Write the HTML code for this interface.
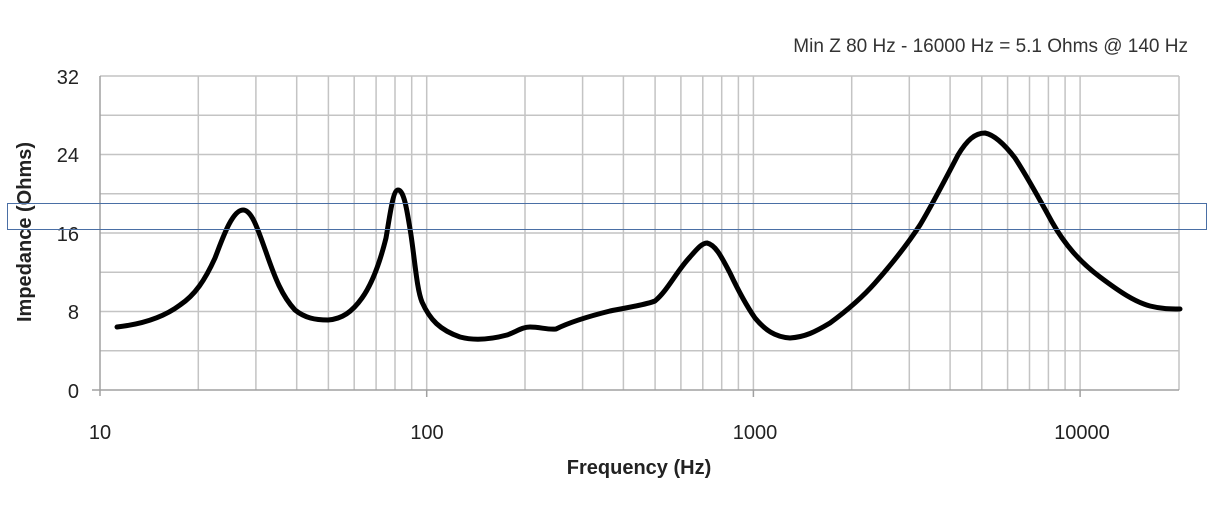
<!DOCTYPE html>
<html><head><meta charset="utf-8"><style>
body{margin:0;background:#fff}
svg{display:block;font-family:"Liberation Sans",sans-serif}
</style></head><body>
<svg width="1226" height="508" viewBox="0 0 1226 508">
<g stroke="#c4c4c4" stroke-width="1.5" fill="none">
<line x1="100" y1="115.25" x2="1179" y2="115.25"/>
<line x1="100" y1="154.5" x2="1179" y2="154.5"/>
<line x1="100" y1="193.75" x2="1179" y2="193.75"/>
<line x1="100" y1="233" x2="1179" y2="233"/>
<line x1="100" y1="272.25" x2="1179" y2="272.25"/>
<line x1="100" y1="311.5" x2="1179" y2="311.5"/>
<line x1="100" y1="350.75" x2="1179" y2="350.75"/>
<line x1="198.3" y1="76" x2="198.3" y2="390"/>
<line x1="255.9" y1="76" x2="255.9" y2="390"/>
<line x1="296.7" y1="76" x2="296.7" y2="390"/>
<line x1="328.4" y1="76" x2="328.4" y2="390"/>
<line x1="354.2" y1="76" x2="354.2" y2="390"/>
<line x1="376.1" y1="76" x2="376.1" y2="390"/>
<line x1="395" y1="76" x2="395" y2="390"/>
<line x1="411.7" y1="76" x2="411.7" y2="390"/>
<line x1="426.7" y1="76" x2="426.7" y2="390"/>
<line x1="525" y1="76" x2="525" y2="390"/>
<line x1="582.6" y1="76" x2="582.6" y2="390"/>
<line x1="623.4" y1="76" x2="623.4" y2="390"/>
<line x1="655.1" y1="76" x2="655.1" y2="390"/>
<line x1="680.9" y1="76" x2="680.9" y2="390"/>
<line x1="702.8" y1="76" x2="702.8" y2="390"/>
<line x1="721.7" y1="76" x2="721.7" y2="390"/>
<line x1="738.4" y1="76" x2="738.4" y2="390"/>
<line x1="753.4" y1="76" x2="753.4" y2="390"/>
<line x1="851.7" y1="76" x2="851.7" y2="390"/>
<line x1="909.3" y1="76" x2="909.3" y2="390"/>
<line x1="950.1" y1="76" x2="950.1" y2="390"/>
<line x1="981.8" y1="76" x2="981.8" y2="390"/>
<line x1="1007.6" y1="76" x2="1007.6" y2="390"/>
<line x1="1029.5" y1="76" x2="1029.5" y2="390"/>
<line x1="1048.4" y1="76" x2="1048.4" y2="390"/>
<line x1="1065.1" y1="76" x2="1065.1" y2="390"/>
<line x1="1080.1" y1="76" x2="1080.1" y2="390"/>
<line x1="100" y1="76" x2="1179" y2="76"/>
<line x1="1179" y1="76" x2="1179" y2="390"/>
</g>
<g stroke="#a0a0a0" stroke-width="1.5">
<line x1="92" y1="390" x2="1179" y2="390"/>
<line x1="100" y1="76" x2="100" y2="396"/>
<line x1="426.7" y1="390" x2="426.7" y2="397"/>
<line x1="753.4" y1="390" x2="753.4" y2="397"/>
<line x1="1080.1" y1="390" x2="1080.1" y2="397"/>
</g>
<g font-size="20" fill="#222" text-anchor="end">
<text x="79" y="84">32</text><text x="79" y="162">24</text><text x="79" y="241">16</text><text x="79" y="319">8</text><text x="79" y="398">0</text>
</g>
<g font-size="20" fill="#222" text-anchor="middle">
<text x="100" y="439">10</text><text x="427" y="439">100</text><text x="755" y="439">1000</text><text x="1082" y="439">10000</text>
</g>
<text x="639" y="474" font-size="20" font-weight="bold" text-anchor="middle" fill="#222">Frequency (Hz)</text>
<text transform="translate(31,232) rotate(-90)" font-size="20" font-weight="bold" text-anchor="middle" fill="#222">Impedance (Ohms)</text>
<text x="1188" y="52" font-size="19" text-anchor="end" fill="#333">Min Z  80 Hz - 16000 Hz = 5.1 Ohms @ 140 Hz</text>
<path fill="none" stroke="#000" stroke-width="5" stroke-linejoin="round" stroke-linecap="round" d="M117,327 C135,325 160,320 180,305 C195,295 205,280 215,258 C222,240 232,210 243,210 C252,210 258,230 266,252 C275,278 282,296 295,310 C305,318 315,320 328,320 C342,319 352,312 362,298 C372,284 380,262 386,238 C390,215 393,190 398,190 C404,190 407,210 411,235 C415,262 417,290 422,302 C430,320 440,330 460,337 C475,341 492,339 507,335 C516,332 522,327 530,327 C540,327 548,330 556,329 C570,322 590,316 610,311 C630,307 645,305 655,301 C668,290 676,272 690,257 C697,249 702,243 707,243 C716,245 722,258 730,273 C738,290 746,305 755,318 C765,330 775,337 790,338 C805,337 815,332 830,323 C845,312 860,300 875,283 C890,266 905,248 920,225 C932,205 945,180 958,155 C967,140 975,133 985,133 C995,135 1005,145 1015,158 C1028,178 1040,200 1052,222 C1065,245 1080,262 1100,277 C1120,292 1135,302 1150,306 C1162,309 1170,309 1180,309"/>
<rect x="7.5" y="203.5" width="1199" height="26" fill="none" stroke="#4a6fa5" stroke-width="1"/>
</svg>
</body></html>
